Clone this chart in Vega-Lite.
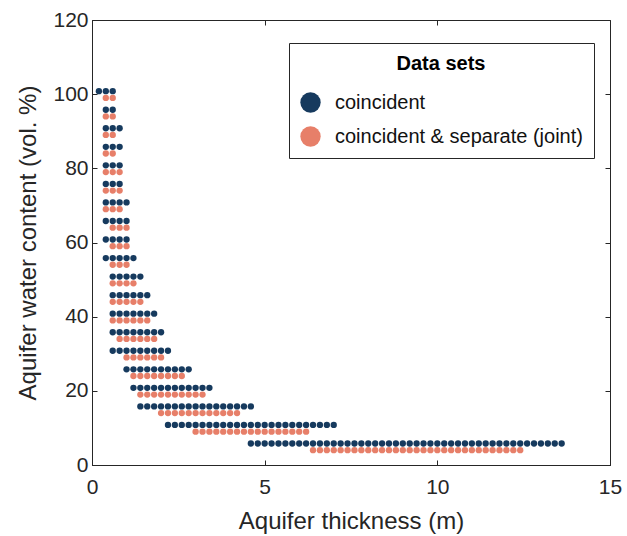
{
  "$schema": "https://vega.github.io/schema/vega-lite/v6.json",
  "width": 518,
  "height": 445,
  "autosize": "none",
  "padding": {"left": 92, "top": 20, "right": 17, "bottom": 71},
  "background": "white",
  "datasets": {
    "coincident": [
      {"x":0.2,"y":100.8},{"x":0.4,"y":100.8},{"x":0.6,"y":100.8},
      {"x":0.4,"y":95.8},{"x":0.6,"y":95.8},
      {"x":0.4,"y":90.8},{"x":0.6,"y":90.8},{"x":0.8,"y":90.8},
      {"x":0.4,"y":85.8},{"x":0.6,"y":85.8},{"x":0.8,"y":85.8},
      {"x":0.4,"y":80.8},{"x":0.6,"y":80.8},{"x":0.8,"y":80.8},
      {"x":0.4,"y":75.8},{"x":0.6,"y":75.8},{"x":0.8,"y":75.8},
      {"x":0.4,"y":70.8},{"x":0.6,"y":70.8},{"x":0.8,"y":70.8},{"x":1.0,"y":70.8},
      {"x":0.4,"y":65.8},{"x":0.6,"y":65.8},{"x":0.8,"y":65.8},{"x":1.0,"y":65.8},
      {"x":0.4,"y":60.8},{"x":0.6,"y":60.8},{"x":0.8,"y":60.8},{"x":1.0,"y":60.8},
      {"x":0.4,"y":55.8},{"x":0.6,"y":55.8},{"x":0.8,"y":55.8},{"x":1.0,"y":55.8},{"x":1.2,"y":55.8},
      {"x":0.6,"y":50.8},{"x":0.8,"y":50.8},{"x":1.0,"y":50.8},{"x":1.2,"y":50.8},{"x":1.4,"y":50.8},
      {"x":0.6,"y":45.8},{"x":0.8,"y":45.8},{"x":1.0,"y":45.8},{"x":1.2,"y":45.8},{"x":1.4,"y":45.8},{"x":1.6,"y":45.8},
      {"x":0.6,"y":40.8},{"x":0.8,"y":40.8},{"x":1.0,"y":40.8},{"x":1.2,"y":40.8},{"x":1.4,"y":40.8},{"x":1.6,"y":40.8},{"x":1.8,"y":40.8},
      {"x":0.6,"y":35.8},{"x":0.8,"y":35.8},{"x":1.0,"y":35.8},{"x":1.2,"y":35.8},{"x":1.4,"y":35.8},{"x":1.6,"y":35.8},{"x":1.8,"y":35.8},{"x":2.0,"y":35.8},
      {"x":0.6,"y":30.8},{"x":0.8,"y":30.8},{"x":1.0,"y":30.8},{"x":1.2,"y":30.8},{"x":1.4,"y":30.8},{"x":1.6,"y":30.8},{"x":1.8,"y":30.8},{"x":2.0,"y":30.8},{"x":2.2,"y":30.8},
      {"x":1.0,"y":25.8},{"x":1.2,"y":25.8},{"x":1.4,"y":25.8},{"x":1.6,"y":25.8},{"x":1.8,"y":25.8},{"x":2.0,"y":25.8},{"x":2.2,"y":25.8},{"x":2.4,"y":25.8},{"x":2.6,"y":25.8},{"x":2.8,"y":25.8},
      {"x":1.2,"y":20.8},{"x":1.4,"y":20.8},{"x":1.6,"y":20.8},{"x":1.8,"y":20.8},{"x":2.0,"y":20.8},{"x":2.2,"y":20.8},{"x":2.4,"y":20.8},{"x":2.6,"y":20.8},{"x":2.8,"y":20.8},{"x":3.0,"y":20.8},{"x":3.2,"y":20.8},{"x":3.4,"y":20.8},
      {"x":1.4,"y":15.8},{"x":1.6,"y":15.8},{"x":1.8,"y":15.8},{"x":2.0,"y":15.8},{"x":2.2,"y":15.8},{"x":2.4,"y":15.8},{"x":2.6,"y":15.8},{"x":2.8,"y":15.8},{"x":3.0,"y":15.8},{"x":3.2,"y":15.8},{"x":3.4,"y":15.8},{"x":3.6,"y":15.8},{"x":3.8,"y":15.8},{"x":4.0,"y":15.8},{"x":4.2,"y":15.8},{"x":4.4,"y":15.8},{"x":4.6,"y":15.8},
      {"x":2.2,"y":10.8},{"x":2.4,"y":10.8},{"x":2.6,"y":10.8},{"x":2.8,"y":10.8},{"x":3.0,"y":10.8},{"x":3.2,"y":10.8},{"x":3.4,"y":10.8},{"x":3.6,"y":10.8},{"x":3.8,"y":10.8},{"x":4.0,"y":10.8},{"x":4.2,"y":10.8},{"x":4.4,"y":10.8},{"x":4.6,"y":10.8},{"x":4.8,"y":10.8},{"x":5.0,"y":10.8},{"x":5.2,"y":10.8},{"x":5.4,"y":10.8},{"x":5.6,"y":10.8},{"x":5.8,"y":10.8},{"x":6.0,"y":10.8},{"x":6.2,"y":10.8},{"x":6.4,"y":10.8},{"x":6.6,"y":10.8},{"x":6.8,"y":10.8},{"x":7.0,"y":10.8},
      {"x":4.6,"y":5.8},{"x":4.8,"y":5.8},{"x":5.0,"y":5.8},{"x":5.2,"y":5.8},{"x":5.4,"y":5.8},{"x":5.6,"y":5.8},{"x":5.8,"y":5.8},{"x":6.0,"y":5.8},{"x":6.2,"y":5.8},{"x":6.4,"y":5.8},{"x":6.6,"y":5.8},{"x":6.8,"y":5.8},{"x":7.0,"y":5.8},{"x":7.2,"y":5.8},{"x":7.4,"y":5.8},{"x":7.6,"y":5.8},{"x":7.8,"y":5.8},{"x":8.0,"y":5.8},{"x":8.2,"y":5.8},{"x":8.4,"y":5.8},{"x":8.6,"y":5.8},{"x":8.8,"y":5.8},{"x":9.0,"y":5.8},{"x":9.2,"y":5.8},{"x":9.4,"y":5.8},{"x":9.6,"y":5.8},{"x":9.8,"y":5.8},{"x":10.0,"y":5.8},{"x":10.2,"y":5.8},{"x":10.4,"y":5.8},{"x":10.6,"y":5.8},{"x":10.8,"y":5.8},{"x":11.0,"y":5.8},{"x":11.2,"y":5.8},{"x":11.4,"y":5.8},{"x":11.6,"y":5.8},{"x":11.8,"y":5.8},{"x":12.0,"y":5.8},{"x":12.2,"y":5.8},{"x":12.4,"y":5.8},{"x":12.6,"y":5.8},{"x":12.8,"y":5.8},{"x":13.0,"y":5.8},{"x":13.2,"y":5.8},{"x":13.4,"y":5.8},{"x":13.6,"y":5.8}
    ],
    "joint": [
      {"x":0.4,"y":99},{"x":0.6,"y":99},
      {"x":0.4,"y":94},{"x":0.6,"y":94},
      {"x":0.4,"y":89},{"x":0.6,"y":89},
      {"x":0.4,"y":84},{"x":0.6,"y":84},
      {"x":0.4,"y":79},{"x":0.6,"y":79},{"x":0.8,"y":79},
      {"x":0.4,"y":74},{"x":0.6,"y":74},{"x":0.8,"y":74},
      {"x":0.4,"y":69},{"x":0.6,"y":69},{"x":0.8,"y":69},
      {"x":0.6,"y":64},{"x":0.8,"y":64},{"x":1.0,"y":64},
      {"x":0.6,"y":59},{"x":0.8,"y":59},{"x":1.0,"y":59},
      {"x":0.6,"y":54},{"x":0.8,"y":54},{"x":1.0,"y":54},
      {"x":0.6,"y":49},{"x":0.8,"y":49},{"x":1.0,"y":49},{"x":1.2,"y":49},
      {"x":0.6,"y":44},{"x":0.8,"y":44},{"x":1.0,"y":44},{"x":1.2,"y":44},{"x":1.4,"y":44},
      {"x":0.6,"y":39},{"x":0.8,"y":39},{"x":1.0,"y":39},{"x":1.2,"y":39},{"x":1.4,"y":39},{"x":1.6,"y":39},
      {"x":0.8,"y":34},{"x":1.0,"y":34},{"x":1.2,"y":34},{"x":1.4,"y":34},{"x":1.6,"y":34},{"x":1.8,"y":34},
      {"x":1.0,"y":29},{"x":1.2,"y":29},{"x":1.4,"y":29},{"x":1.6,"y":29},{"x":1.8,"y":29},{"x":2.0,"y":29},
      {"x":1.2,"y":24},{"x":1.4,"y":24},{"x":1.6,"y":24},{"x":1.8,"y":24},{"x":2.0,"y":24},{"x":2.2,"y":24},{"x":2.4,"y":24},{"x":2.6,"y":24},
      {"x":1.4,"y":19},{"x":1.6,"y":19},{"x":1.8,"y":19},{"x":2.0,"y":19},{"x":2.2,"y":19},{"x":2.4,"y":19},{"x":2.6,"y":19},{"x":2.8,"y":19},{"x":3.0,"y":19},{"x":3.2,"y":19},
      {"x":2.0,"y":14},{"x":2.2,"y":14},{"x":2.4,"y":14},{"x":2.6,"y":14},{"x":2.8,"y":14},{"x":3.0,"y":14},{"x":3.2,"y":14},{"x":3.4,"y":14},{"x":3.6,"y":14},{"x":3.8,"y":14},{"x":4.0,"y":14},{"x":4.2,"y":14},
      {"x":3.0,"y":9},{"x":3.2,"y":9},{"x":3.4,"y":9},{"x":3.6,"y":9},{"x":3.8,"y":9},{"x":4.0,"y":9},{"x":4.2,"y":9},{"x":4.4,"y":9},{"x":4.6,"y":9},{"x":4.8,"y":9},{"x":5.0,"y":9},{"x":5.2,"y":9},{"x":5.4,"y":9},{"x":5.6,"y":9},{"x":5.8,"y":9},{"x":6.0,"y":9},{"x":6.2,"y":9},
      {"x":6.4,"y":4},{"x":6.6,"y":4},{"x":6.8,"y":4},{"x":7.0,"y":4},{"x":7.2,"y":4},{"x":7.4,"y":4},{"x":7.6,"y":4},{"x":7.8,"y":4},{"x":8.0,"y":4},{"x":8.2,"y":4},{"x":8.4,"y":4},{"x":8.6,"y":4},{"x":8.8,"y":4},{"x":9.0,"y":4},{"x":9.2,"y":4},{"x":9.4,"y":4},{"x":9.6,"y":4},{"x":9.8,"y":4},{"x":10.0,"y":4},{"x":10.2,"y":4},{"x":10.4,"y":4},{"x":10.6,"y":4},{"x":10.8,"y":4},{"x":11.0,"y":4},{"x":11.2,"y":4},{"x":11.4,"y":4},{"x":11.6,"y":4},{"x":11.8,"y":4},{"x":12.0,"y":4},{"x":12.2,"y":4},{"x":12.4,"y":4}
    ]
  },
  "layer": [
    {
      "data": {"name": "coincident"},
      "mark": {"type": "circle", "size": 40, "opacity": 1},
      "encoding": {
        "x": {"field": "x", "type": "quantitative", "scale": {"domain": [0, 15], "nice": false, "zero": false},
              "axis": {"orient": "bottom", "values": [0, 5, 10, 15], "title": "Aquifer thickness (m)", "labelPadding": 16, "titlePadding": 12, "labelFlush": false}},
        "y": {"field": "y", "type": "quantitative", "scale": {"domain": [0, 120], "nice": false, "zero": false},
              "axis": {"orient": "left", "values": [0, 20, 40, 60, 80, 100, 120], "title": "Aquifer water content (vol. %)", "labelPadding": 9, "titlePadding": 12, "labelFlush": false}},
        "color": {"datum": "coincident", "type": "nominal",
                  "scale": {"domain": ["coincident", "coincident & separate (joint)"], "range": ["#163a5e", "#e77f69"]},
                  "legend": {"orient": "none", "legendX": 197, "legendY": 23, "title": "Data sets",
                             "titleFontSize": 20, "titleFontWeight": "bold", "titleAnchor": "middle", "titleColor": "#000000",
                             "titleFont": "Liberation Sans", "labelFont": "Liberation Sans", "labelLimit": 0,
                             "labelFontSize": 20, "labelColor": "#111111", "symbolType": "circle", "symbolSize": 415,
                             "symbolStrokeWidth": 0, "symbolOpacity": 1, "labelOffset": 14, "rowPadding": 13,
                             "titlePadding": 18, "padding": 11, "strokeColor": "#262626", "fillColor": "white", "cornerRadius": 0}}
      }
    },
    {
      "data": {"name": "joint"},
      "mark": {"type": "circle", "size": 40, "opacity": 1},
      "encoding": {
        "x": {"field": "x", "type": "quantitative",
              "axis": {"orient": "top", "values": [0, 5, 10, 15], "title": null, "labels": false, "domain": false}},
        "y": {"field": "y", "type": "quantitative",
              "axis": {"orient": "right", "values": [0, 20, 40, 60, 80, 100, 120], "title": null, "labels": false, "domain": false}},
        "color": {"datum": "coincident & separate (joint)", "type": "nominal"}
      }
    }
  ],
  "resolve": {"axis": {"x": "independent", "y": "independent"}},
  "config": {
    "font": "Liberation Sans",
    "view": {"stroke": "#262626", "strokeWidth": 1},
    "axis": {"grid": false, "domainColor": "#262626", "tickColor": "#262626", "labelColor": "#262626", "titleColor": "#262626",
             "labelFont": "Liberation Sans", "titleFont": "Liberation Sans", "labelFontSize": 21, "titleFontSize": 24,
             "titleFontWeight": "normal", "tickSize": -5, "domainWidth": 1, "tickWidth": 1}
  }
}
